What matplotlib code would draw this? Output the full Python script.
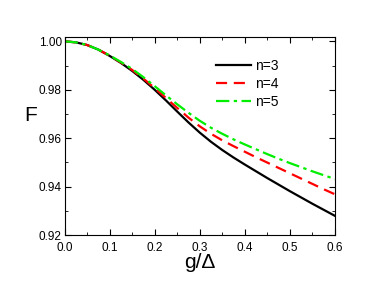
import matplotlib
matplotlib.use("Agg")
from matplotlib import pyplot as plt
from matplotlib.ticker import MultipleLocator

plt.rcParams['font.family'] = ['Liberation Sans', 'DejaVu Sans']

# fidelity F vs g/Delta for three chain lengths
x = [0.0, 0.025, 0.05, 0.075, 0.1, 0.125, 0.15, 0.175, 0.2, 0.225, 0.25, 0.275,
     0.3, 0.325, 0.35, 0.375, 0.4, 0.425, 0.45, 0.475, 0.5, 0.525, 0.55, 0.575, 0.6]
f_n3 = [1.0, 0.9996, 0.9985, 0.9966, 0.9940, 0.9911, 0.9878, 0.9841, 0.9800, 0.9756,
        0.9710, 0.9665, 0.9623, 0.9585, 0.9551, 0.9520, 0.9491, 0.9463, 0.9435, 0.9408,
        0.9381, 0.9355, 0.9329, 0.9304, 0.9279]
f_n4 = [1.0, 0.9996, 0.9985, 0.9966, 0.9941, 0.9913, 0.9882, 0.9846, 0.9807, 0.9766,
        0.9725, 0.9685, 0.9649, 0.9618, 0.9591, 0.9567, 0.9544, 0.9521, 0.9499, 0.9477,
        0.9455, 0.9433, 0.9411, 0.9389, 0.9368]
f_n5 = [1.0, 0.9996, 0.9985, 0.9966, 0.9942, 0.9915, 0.9886, 0.9852, 0.9815, 0.9777,
        0.9740, 0.9705, 0.9672, 0.9643, 0.9618, 0.9595, 0.9574, 0.9554, 0.9534, 0.9515,
        0.9497, 0.9480, 0.9463, 0.9447, 0.9431]
labels = ['n=3', 'n=4', 'n=5']

fig = plt.figure(figsize=(3.74, 2.99), dpi=100)
ax = fig.add_axes([64.5/374, 1-235/299, (335-64.5)/374, (235-37)/299])

ax.plot(x, f_n3, color='black', lw=1.6, label=labels[0])
ax.plot(x, f_n4, color='red', lw=1.6, ls=(0, (5, 3)), label=labels[1])
ax.plot(x, f_n5, color='#00ee00', lw=1.6, ls=(0, (6, 2, 1.5, 2)), label=labels[2])

ax.set_xlim(0, 0.6)
ax.set_ylim(0.92, 1.0018)
ax.xaxis.set_major_locator(MultipleLocator(0.1))
ax.xaxis.set_minor_locator(MultipleLocator(0.05))
ax.yaxis.set_major_locator(MultipleLocator(0.02))
ax.yaxis.set_minor_locator(MultipleLocator(0.01))
ax.xaxis.set_major_formatter(plt.FuncFormatter(lambda v, p: '%.1f' % v))
ax.yaxis.set_major_formatter(plt.FuncFormatter(lambda v, p: '%.2f' % v))
ax.tick_params(which='both', direction='in', top=True, right=True, labelsize=8.5)
ax.tick_params(axis='x', pad=5)
ax.tick_params(axis='y', pad=2)
ax.tick_params(which='major', length=4)
ax.tick_params(which='minor', length=2)

ax.set_xlabel('g/Δ', fontsize=15, va='center')
ax.xaxis.set_label_coords(0.5, -0.14)
ax.set_ylabel('F', fontsize=15, rotation=0, va='center', ha='center')
ax.yaxis.set_label_coords(-0.125, 0.605)

ax.legend(loc='upper left', frameon=False, fontsize=10, handlelength=2.5,
          handletextpad=0.3, labelspacing=0.3, borderpad=0, borderaxespad=0,
          bbox_to_anchor=(0.56, 0.89))

fig.savefig('out.png', dpi=100)
